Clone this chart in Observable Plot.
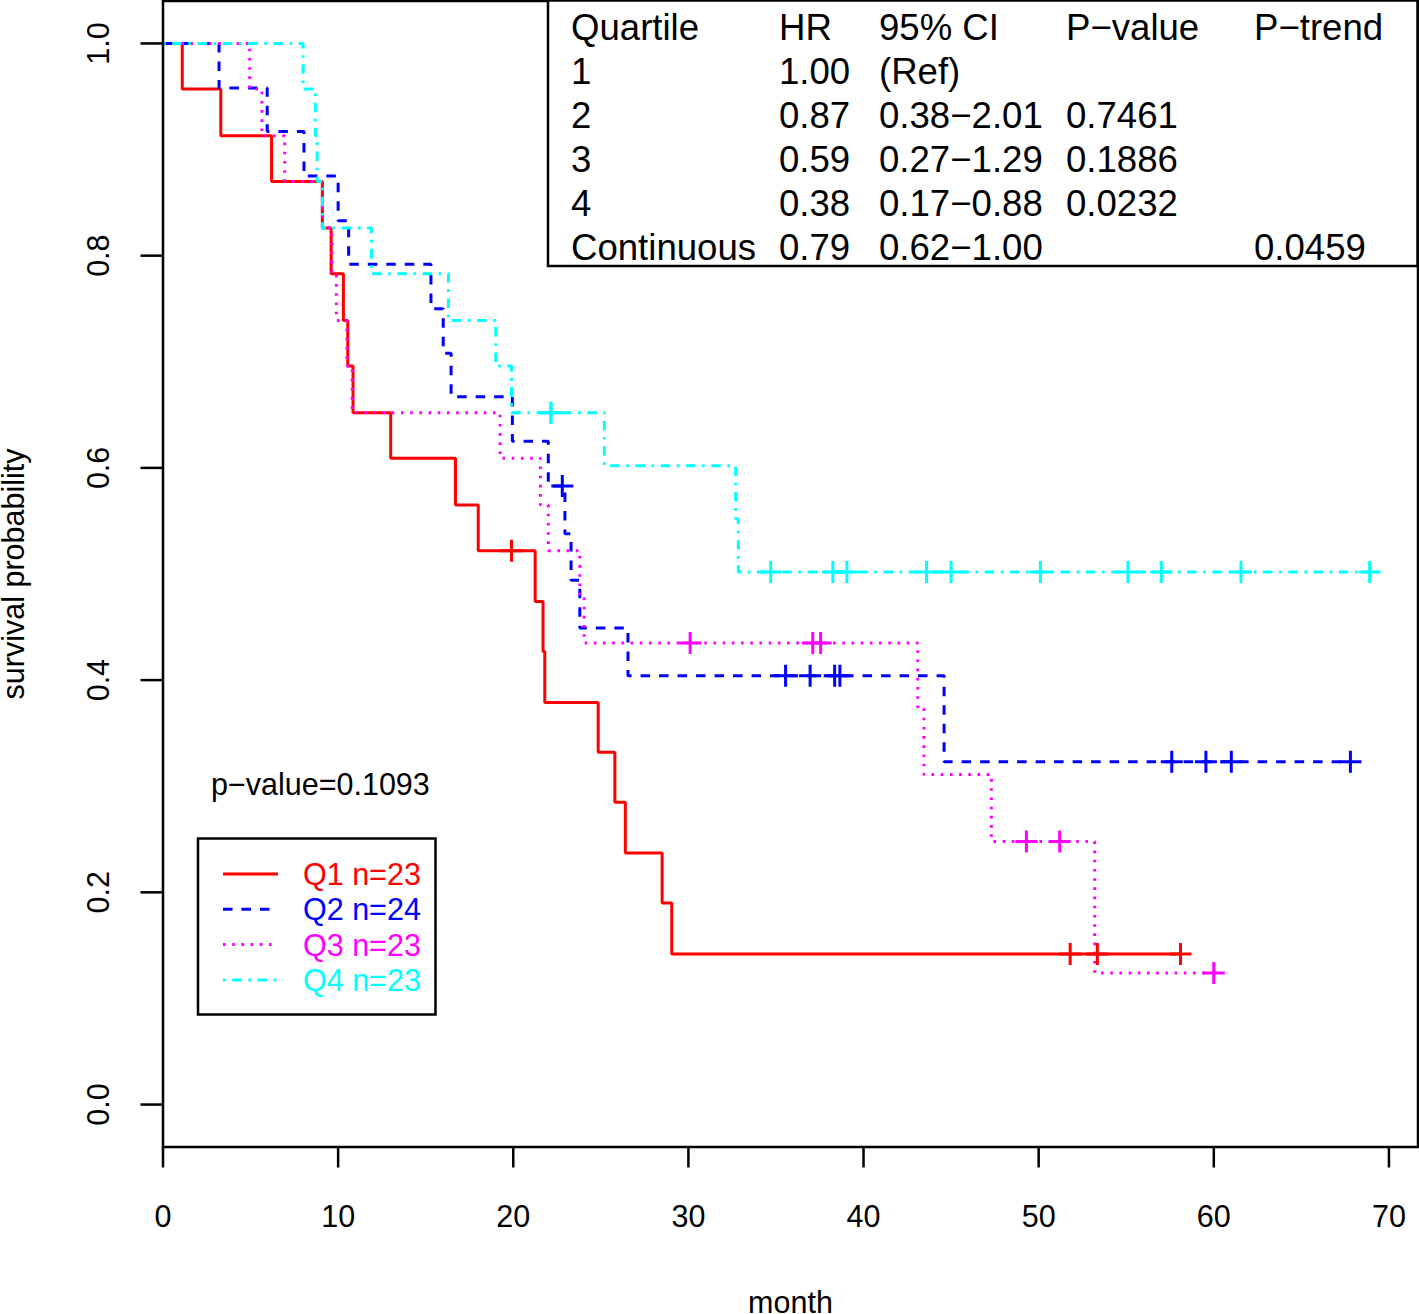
<!DOCTYPE html>
<html><head><meta charset="utf-8">
<script src="https://cdn.jsdelivr.net/npm/d3@7"></script>
<script src="https://cdn.jsdelivr.net/npm/@observablehq/plot@0.6"></script>
<style>html,body{margin:0;padding:0;background:#fff;} #chart{width:1419px;height:1314px;}</style>
</head><body><div id="chart"></div>
<script>
// ---------- data ----------
const seriesNames = ["Q1", "Q2", "Q3", "Q4"];
const seriesN = [23, 24, 23, 23];
const seriesColors = ["#FF0000", "#0000FF", "#FF00FF", "#00FFFF"];

const q1Time = [0, 1.1, 3.3, 6.2, 9.1, 9.6, 10.3, 10.55, 10.85, 13.0, 16.7, 18.0, 21.25, 21.7, 21.8, 24.85, 25.8, 26.4, 28.5, 29.05];
const q1Surv = [1, 0.957, 0.913, 0.870, 0.826, 0.783, 0.739, 0.696, 0.652, 0.609, 0.565, 0.522, 0.474, 0.427, 0.379, 0.332, 0.285, 0.237, 0.190, 0.142];
const q1End = 58.1;
const q1CensorTime = [19.9, 51.8, 53.35, 58.1];
const q1CensorSurv = [0.522, 0.142, 0.142, 0.142];

const q2Time = [0, 3.2, 5.95, 8.05, 10.0, 10.6, 15.3, 16.0, 16.45, 19.95, 22.0, 22.95, 23.3, 23.8, 26.55, 44.6];
const q2Surv = [1, 0.958, 0.917, 0.875, 0.833, 0.792, 0.750, 0.708, 0.667, 0.625, 0.583, 0.538, 0.494, 0.449, 0.404, 0.323];
const q2End = 67.8;
const q2CensorTime = [22.8, 35.55, 36.95, 38.35, 38.65, 57.6, 59.55, 61.0, 67.8];
const q2CensorSurv = [0.583, 0.404, 0.404, 0.404, 0.404, 0.323, 0.323, 0.323, 0.323];

const q3Time = [0, 4.95, 5.65, 6.95, 9.1, 9.65, 9.9, 10.5, 10.8, 19.25, 21.55, 22.0, 23.8, 24.05, 43.1, 43.45, 47.3, 53.2];
const q3Surv = [1, 0.957, 0.913, 0.870, 0.826, 0.783, 0.739, 0.696, 0.652, 0.609, 0.565, 0.522, 0.478, 0.435, 0.373, 0.311, 0.248, 0.124];
const q3End = 60.0;
const q3CensorTime = [30.1, 37.1, 37.55, 49.3, 51.2, 60.0];
const q3CensorSurv = [0.435, 0.435, 0.435, 0.248, 0.248, 0.124];

const q4Time = [0, 8.0, 8.7, 8.8, 9.1, 11.9, 16.3, 19.0, 19.9, 25.2, 32.7, 32.85];
const q4Surv = [1, 0.957, 0.913, 0.870, 0.826, 0.783, 0.739, 0.696, 0.652, 0.602, 0.552, 0.502];
const q4End = 68.9;
const q4CensorTime = [22.15, 22.15, 34.7, 38.25, 39.05, 43.6, 45.0, 50.1, 55.1, 57.0, 61.55, 68.9];
const q4CensorSurv = [0.652, 0.652, 0.502, 0.502, 0.502, 0.502, 0.502, 0.502, 0.502, 0.502, 0.502, 0.502];

const xTicks = [0, 10, 20, 30, 40, 50, 60, 70];
const yTicks = [0, 0.2, 0.4, 0.6, 0.8, 1.0];
const yTickLabels = ["0.0", "0.2", "0.4", "0.6", "0.8", "1.0"];
const xTitle = "month";
const yTitle = "survival probability";
const pValueText = "p\u2212value=0.1093";

const tableHeader = ["Quartile", "HR", "95% CI", "P\u2212value", "P\u2212trend"];
const tableQuartile = ["1", "2", "3", "4", "Continuous"];
const tableHR = ["1.00", "0.87", "0.59", "0.38", "0.79"];
const tableCI = ["(Ref)", "0.38\u22122.01", "0.27\u22121.29", "0.17\u22120.88", "0.62\u22121.00"];
const tableP = ["", "0.7461", "0.1886", "0.0232", ""];
const tablePTrend = ["", "", "", "", "0.0459"];

// ---------- build ----------
const seriesTimes = [q1Time, q2Time, q3Time, q4Time];
const seriesSurvs = [q1Surv, q2Surv, q3Surv, q4Surv];
const seriesEnds = [q1End, q2End, q3End, q4End];
const censorTimes = [q1CensorTime, q2CensorTime, q3CensorTime, q4CensorTime];
const censorSurvs = [q1CensorSurv, q2CensorSurv, q3CensorSurv, q4CensorSurv];

const LW = 3;
const dashes = [null, "9.5,9", "2.6,6.6", "2.6,6.6,9.5,6.6"];
const FONT = "'Liberation Sans', Arial, Helvetica, sans-serif";

const plusSymbol = {
  draw(ctx, size) {
    const r = Math.sqrt(size / Math.PI);
    ctx.moveTo(-r, 0); ctx.lineTo(r, 0);
    ctx.moveTo(0, -r); ctx.lineTo(0, r);
  }
};

const marks = [];
marks.push(Plot.axisX(xTicks, {tickSize: 21, tickPadding: 37, strokeWidth: 2.5, label: null, tickFormat: d => String(d)}));
marks.push(Plot.axisY(yTicks, {tickSize: 22, strokeWidth: 2.5, label: null, tickFormat: () => ""}));
marks.push(Plot.text(yTicks, {y: d => d, text: (d, i) => yTickLabels[i], frameAnchor: "left", dx: -64, rotate: -90, textAnchor: "middle", lineAnchor: "middle"}));
marks.push(Plot.text([xTitle], {text: d => d, frameAnchor: "bottom", dy: 156, lineAnchor: "middle"}));
marks.push(Plot.text([yTitle], {text: d => d, frameAnchor: "left", dx: -149, rotate: -90, lineAnchor: "middle", textAnchor: "middle"}));

seriesNames.forEach((name, k) => {
  const pts = seriesTimes[k].map((t, i) => ({t, s: seriesSurvs[k][i]}));
  pts.push({t: seriesEnds[k], s: seriesSurvs[k][seriesSurvs[k].length - 1]});
  const opts = {x: "t", y: "s", curve: "step-after", stroke: seriesColors[k], strokeWidth: LW, strokeLinecap: "butt", strokeLinejoin: "miter"};
  if (dashes[k]) opts.strokeDasharray = dashes[k];
  marks.push(Plot.line(pts, opts));
});
seriesNames.forEach((name, k) => {
  const cs = censorTimes[k].map((t, i) => ({t, s: censorSurvs[k][i]}));
  marks.push(Plot.dot(cs, {x: "t", y: "s", symbol: plusSymbol, r: 11, fill: "none", stroke: seriesColors[k], strokeWidth: LW}));
});
marks.push(Plot.frame({stroke: "#000", strokeWidth: 2.5}));

const chart = Plot.plot({
  width: 1419, height: 1314,
  marginLeft: 162.5, marginRight: 1.5, marginTop: 0.5, marginBottom: 167.5,
  x: {domain: [0, 71.66]},
  y: {domain: [-0.04, 1.04]},
  style: {fontFamily: FONT, fontSize: "30.5px", background: "#fff", color: "#000", overflow: "visible"},
  marks
});
document.getElementById("chart").appendChild(chart);

// ---------- annotations: table, p-value, legend ----------
const svg = d3.select(chart);
const g = svg.append("g").attr("font-family", FONT).attr("text-anchor", "start");

// table
const tbl = {x0: 548, y0: 0.5, x1: 1417.5, y1: 266, colX: [571, 779, 879, 1066, 1254], baseline0: 40, rowStep: 44, fontSize: 36.6};
g.append("rect").attr("x", tbl.x0).attr("y", tbl.y0).attr("width", tbl.x1 - tbl.x0).attr("height", tbl.y1 - tbl.y0)
  .attr("fill", "#fff").attr("stroke", "#000").attr("stroke-width", 2.5);
const tableRows = [tableHeader].concat(tableQuartile.map((q, i) => [q, tableHR[i], tableCI[i], tableP[i], tablePTrend[i]]));
tableRows.forEach((row, r) => {
  row.forEach((cell, c) => {
    if (!cell) return;
    g.append("text").attr("x", tbl.colX[c]).attr("y", tbl.baseline0 + r * tbl.rowStep)
      .attr("text-anchor", "start").attr("font-size", tbl.fontSize).attr("fill", "#000").text(cell);
  });
});

// p-value
g.append("text").attr("x", 211).attr("y", 795).attr("text-anchor", "start").attr("font-size", 30.5).attr("fill", "#000").text(pValueText);

// legend
const lg = {x: 198, y: 838.5, w: 237.5, h: 176, lineX0: 223, lineX1: 278, textX: 303, row0: 874, rowStep: 35.3};
g.append("rect").attr("x", lg.x).attr("y", lg.y).attr("width", lg.w).attr("height", lg.h)
  .attr("fill", "#fff").attr("stroke", "#000").attr("stroke-width", 2.5);
seriesNames.forEach((name, k) => {
  const cy = lg.row0 + k * lg.rowStep;
  const ln = g.append("line").attr("x1", lg.lineX0).attr("x2", lg.lineX1).attr("y1", cy).attr("y2", cy)
    .attr("stroke", seriesColors[k]).attr("stroke-width", LW);
  if (dashes[k]) ln.attr("stroke-dasharray", dashes[k]);
  g.append("text").attr("x", lg.textX).attr("y", cy + 11).attr("text-anchor", "start").attr("font-size", 30.5).attr("fill", seriesColors[k])
    .text(name + " n=" + seriesN[k]);
});
</script>
</body></html>
